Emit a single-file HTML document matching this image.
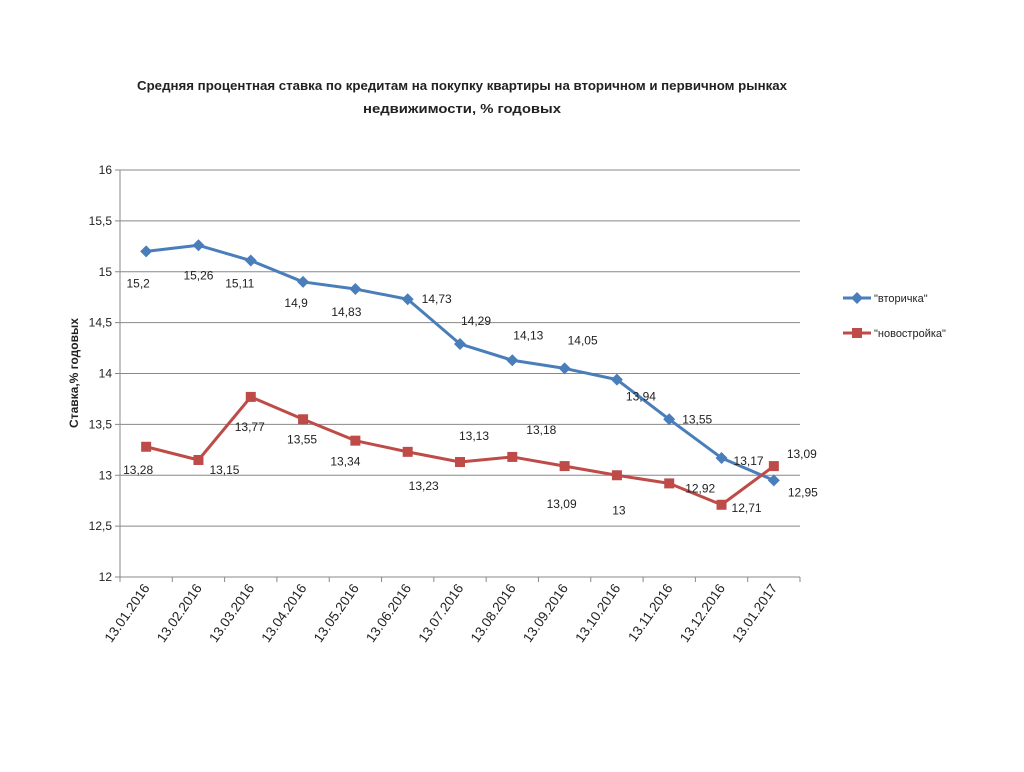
<!DOCTYPE html>
<html><head><meta charset="utf-8"><style>
html,body{margin:0;padding:0;background:#fff;}
svg text{font-family:"Liberation Sans","DejaVu Sans",sans-serif;}
</style></head><body>
<svg id="chart" width="1024" height="767" viewBox="0 0 1024 767" xmlns="http://www.w3.org/2000/svg">
<text x="462" y="90" text-anchor="middle" font-size="13" font-weight="bold" fill="#222" textLength="650" lengthAdjust="spacingAndGlyphs">Средняя процентная ставка по кредитам на покупку квартиры на вторичном и первичном рынках</text>
<text x="462" y="113" text-anchor="middle" font-size="13" font-weight="bold" fill="#222" textLength="198" lengthAdjust="spacingAndGlyphs">недвижимости, % годовых</text>
<text transform="translate(78,373) rotate(-90)" text-anchor="middle" font-size="12" font-weight="bold" fill="#222">Ставка,% годовых</text>
<g id="grid"></g><g id="axes"></g><g id="series"></g><g id="labels"></g>
<g>
<g>
<line x1="843" y1="298" x2="871" y2="298" stroke="#4a7ebb" stroke-width="3"/>
<path d="M857 292 L863 298 L857 304 L851 298Z" fill="#4a7ebb"/>
<text x="874" y="302" font-size="11" fill="#222">"вторичка"</text></g>
<g>
<line x1="843" y1="333" x2="871" y2="333" stroke="#be4b48" stroke-width="3"/>
<rect x="852" y="328" width="10" height="10" fill="#be4b48"/>
<text x="874" y="337" font-size="11" fill="#222">"новостройка"</text></g>
</g>
</svg>
<script>
const categories=["13.01.2016","13.02.2016","13.03.2016","13.04.2016","13.05.2016","13.06.2016","13.07.2016","13.08.2016","13.09.2016","13.10.2016","13.11.2016","13.12.2016","13.01.2017"];
const vtorichka=[15.2,15.26,15.11,14.9,14.83,14.73,14.29,14.13,14.05,13.94,13.55,13.17,12.95];
const novostroyka=[13.28,13.15,13.77,13.55,13.34,13.23,13.13,13.18,13.09,13,12.92,12.71,13.09];
const vtorLabels=["15,2","15,26","15,11","14,9","14,83","14,73","14,29","14,13","14,05","13,94","13,55","13,17","12,95"];
const novLabels=["13,28","13,15","13,77","13,55","13,34","13,23","13,13","13,18","13,09","13","12,92","12,71","13,09"];
const yTicks=[12,12.5,13,13.5,14,14.5,15,15.5,16];
const yTickLabels=["12","12,5","13","13,5","14","14,5","15","15,5","16"];
const vtorOff=[[-8,32],[0,30],[-11,23],[-7,21],[-9,23],[29,0],[16,-23],[16,-25],[18,-28],[24,17],[28,0],[27,3],[29,12]];
const novOff=[[-8,23],[26,10],[-1,30],[-1,20],[-10,21],[16,34],[14,-26],[29,-27],[-3,38],[2,35],[31,5],[25,3],[28,-12]];
const NS="http://www.w3.org/2000/svg";
const X0=120,X1=800,Y0=577,Y1=170;
const bw=(X1-X0)/categories.length;
const xs=i=>X0+bw*(i+0.5);
const ys=v=>Y0-(v-12)/(16-12)*(Y0-Y1);
function mk(tag,attrs,parent){const e=document.createElementNS(NS,tag);for(const k in attrs)e.setAttribute(k,attrs[k]);parent.appendChild(e);return e;}
const grid=document.getElementById('grid'),axes=document.getElementById('axes'),ser=document.getElementById('series'),lab=document.getElementById('labels');
yTicks.forEach((t,i)=>{
  const y=ys(t);
  if(i>0){const g=mk('line',{x1:X0,x2:X1,y1:y,y2:y,stroke:'#888','stroke-width':1},grid);
  
  }
  mk('line',{x1:X0-5,x2:X0,y1:y,y2:y,stroke:'#888'},axes);
  const tx=mk('text',{x:X0-8,y:y+4,'text-anchor':'end','font-size':12,fill:'#222'},axes);
  tx.textContent=yTickLabels[i];
  
  
});
mk('line',{x1:X0,x2:X0,y1:Y1,y2:Y0,stroke:'#888'},axes);
mk('line',{x1:X0,x2:X1,y1:Y0,y2:Y0,stroke:'#888'},axes);
for(let i=0;i<=categories.length;i++){mk('line',{x1:X0+bw*i,x2:X0+bw*i,y1:Y0,y2:Y0+5,stroke:'#888'},axes);}
categories.forEach((c,i)=>{
  const x=xs(i)+4,y=Y0+11;
  const t=mk('text',{x:x,y:y,transform:`rotate(-55 ${x} ${y})`,'text-anchor':'end','font-size':13.5,fill:'#222'},axes);
  t.textContent=c;
  
  
});
function drawSeries(vals,color,marker,labels,off,name){
  const p=mk('polyline',{points:vals.map((v,i)=>xs(i)+','+ys(v)).join(' '),fill:'none',stroke:color,'stroke-width':3,'stroke-linejoin':'round'},ser);
  
  
  vals.forEach((v,i)=>{
    const x=xs(i),y=ys(v);let m;
    if(marker==='d')m=mk('path',{d:`M${x} ${y-6} L${x+6} ${y} L${x} ${y+6} L${x-6} ${y}Z`,fill:color},ser);
    else m=mk('rect',{x:x-5,y:y-5,width:10,height:10,fill:color},ser);
    
    
    const t=mk('text',{x:x+off[i][0],y:y+off[i][1]+4,'text-anchor':'middle','font-size':12,fill:'#222'},lab);
    t.textContent=labels[i];
    
    
  });
}
drawSeries(vtorichka,'#4a7ebb','d',vtorLabels,vtorOff,'vtorichka');
drawSeries(novostroyka,'#be4b48','s',novLabels,novOff,'novostroyka');
</script>
</body></html>
